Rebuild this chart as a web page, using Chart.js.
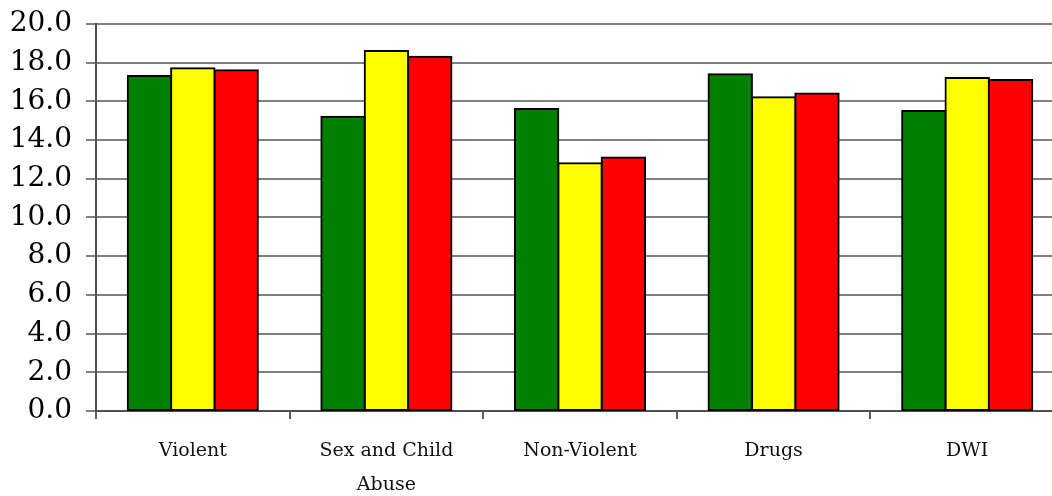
<!DOCTYPE html>
<html>
<head>
<meta charset="utf-8">
<script src="https://cdn.jsdelivr.net/npm/chart.js@4"></script>
<style>
  body { margin: 0; overflow: hidden; background: #fff; }
</style>
</head>
<body>
<canvas id="bar" width="1064" height="496"></canvas>
<script>
const categories = ['Violent', ['Sex and Child', 'Abuse'], 'Non-Violent', 'Drugs', 'DWI'];
const greenValues = [17.3, 15.2, 15.6, 17.4, 15.5];
const yellowValues = [17.7, 18.6, 12.8, 16.2, 17.2];
const redValues = [17.6, 18.3, 13.1, 16.4, 17.1];

const ctx = document.getElementById('bar').getContext('2d');
const myChart = new Chart(ctx, {
    type: 'bar',
    data: {
        labels: categories,
        datasets: [{
            data: greenValues,
            backgroundColor: '#008000'
        }, {
            data: yellowValues,
            backgroundColor: '#ffff00'
        }, {
            data: redValues,
            backgroundColor: '#ff0000'
        }]
    },
    options: {
        responsive: false,
        animation: false,
        categoryPercentage: 0.672,
        barPercentage: 1,
        datasets: {
            bar: {
                borderColor: '#000',
                borderWidth: 2,
                borderSkipped: false,
                inflateAmount: 1
            }
        },
        plugins: {
            legend: { display: false },
            tooltip: { enabled: false }
        },
        layout: {
            padding: { top: 0, right: 0, left: 0, bottom: 0 }
        },
        scales: {
            x: {
                grid: {
                    offset: true,
                    drawOnChartArea: false,
                    drawTicks: true,
                    tickLength: 8,
                    color: '#606060',
                    lineWidth: 2
                },
                border: { color: '#505050', width: 2 },
                ticks: {
                    color: '#111',
                    padding: 15,
                    maxRotation: 0,
                    autoSkip: false,
                    font: { family: 'DejaVu Serif', size: 19, lineHeight: 1.8 }
                },
                afterFit: (scale) => { scale.height = 85; }
            },
            y: {
                min: 0,
                max: 20,
                ticks: {
                    stepSize: 2,
                    color: '#000',
                    padding: 14,
                    font: { family: 'DejaVu Serif', size: 28, lineHeight: 0.7 },
                    callback: (v) => v.toFixed(1)
                },
                grid: {
                    color: '#808080',
                    lineWidth: 2,
                    tickLength: 10
                },
                border: { color: '#505050', width: 2 },
                afterFit: (scale) => { scale.width = 96; }
            }
        }
    }
});
</script>
</body>
</html>
